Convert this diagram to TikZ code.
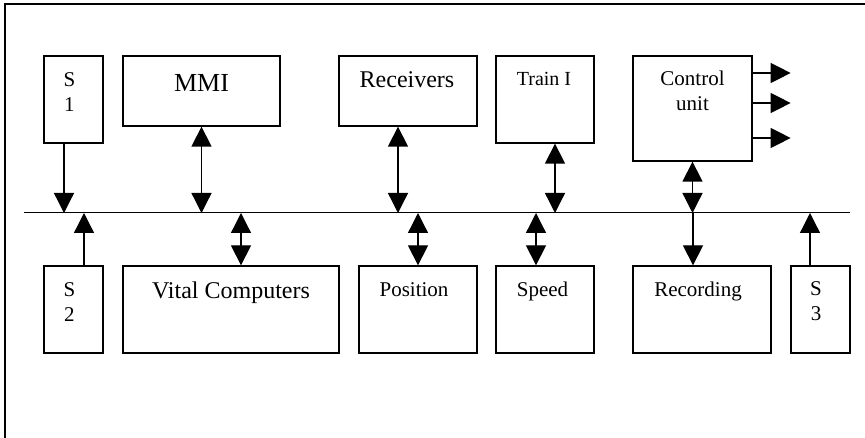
\documentclass[tikz,border=0pt]{standalone}
\usepackage{fontspec}
\setmainfont{Liberation Serif}
\usetikzlibrary{arrows.meta,calc}

\begin{document}
\begin{tikzpicture}[x=1pt,y=-1pt,
	blk/.style={draw,line width=1.3pt,inner sep=0pt,minimum height=87pt},
	lbl/.style={anchor=base,align=center,inner sep=0pt,font=\fontsize{21}{25}\selectfont},
	tip/.style={line width=1.3pt,-{Triangle[length=20pt,width=20pt]}},
	both/.style={line width=1.3pt,{Triangle[length=20pt,width=20pt]}-{Triangle[length=20pt,width=20pt]}}]
	\useasboundingbox (0,0) rectangle (865,438);
	\draw[line width=2pt] (5,438) -- (5,4.5) -- (865,4.5);

	% upper row
	\node[blk,minimum width=59pt] (s1) at (73.5,99.5) {};
	\node[blk,minimum width=157pt,minimum height=70pt] (mmi) at (201.5,91) {};
	\node[blk,minimum width=138pt,minimum height=70pt] (receivers) at (408,91) {};
	\node[blk,minimum width=98pt] (train) at (545,99.5) {};
	\node[blk,minimum width=119pt,minimum height=105pt] (control) at (692.5,108.5) {};

	% lower row
	\node[blk,minimum width=59pt] (s2) at (73.5,309.5) {};
	\node[blk,minimum width=216pt] (vital) at (231,309.5) {};
	\node[blk,minimum width=118pt] (position) at (418,309.5) {};
	\node[blk,minimum width=98pt] (speed) at (545,309.5) {};
	\node[blk,minimum width=138pt] (recording) at (702,309.5) {};
	\node[blk,minimum width=59pt] (s3) at (820.5,309.5) {};

	\node[lbl] (s1t) at ($(s1.north)+(-4,56)$) {S\\1};
	\node[lbl,font=\fontsize{26}{28}\selectfont] (mmit) at ($(mmi.north)+(0,36)$) {MMI};
	\node[lbl,font=\fontsize{24}{26}\selectfont] (receiverst) at ($(receivers.north)+(-1,32)$) {Receivers};
	\node[lbl,font=\fontsize{20}{22}\selectfont] (traint) at ($(train.north)+(-1,30)$) {Train I};
	\node[lbl] (controlt) at ($(control.north)+(0,55)$) {Control\\unit};
	\node[lbl] (s2t) at ($(s2.north)+(-4,56)$) {S\\2};
	\node[lbl,font=\fontsize{24}{26}\selectfont] (vitalt) at ($(vital.north)+(0,33)$) {Vital Computers};
	\node[lbl] (positiont) at ($(position.north)+(-4,31)$) {Position};
	\node[lbl] (speedt) at ($(speed.north)+(-2.5,31)$) {Speed};
	\node[lbl] (recordingt) at ($(recording.north)+(-4,31)$) {Recording};
	\node[lbl] (s3t) at ($(s3.north)+(-4.5,55)$) {S\\3};

	% bus
	\coordinate (busL) at (24,213);
	\coordinate (busR) at (850,213);
	\draw[line width=1pt] (busL) -- (busR);

	\draw[tip] ($(s1.south)+(-9.5,0)$) -- ($(s1.south |- busL)+(-9.5,0)$);
	\foreach \b/\dx in {mmi/0,receivers/-10,train/10,control/0}
		\draw[both] ($(\b.south)+(\dx,0)$) -- ($(\b.south |- busL)+(\dx,0)$);
	\foreach \b/\dx in {vital/10,position/0,speed/-9}
		\draw[both] ($(\b.north)+(\dx,0)$) -- ($(\b.north |- busL)+(\dx,0)$);
	\foreach \b/\dx in {s2/10.5,s3/-10.5}
		\draw[tip] ($(\b.north)+(\dx,0)$) -- ($(\b.north |- busL)+(\dx,0)$);
	\draw[tip] ($(recording.north |- busL)+(-9,0)$) -- ($(recording.north)+(-9,0)$);

	\foreach \y in {73,103,138}
		\draw[tip] (control.east |- 0,\y) -- ++(38,0);
\end{tikzpicture}
\end{document}
